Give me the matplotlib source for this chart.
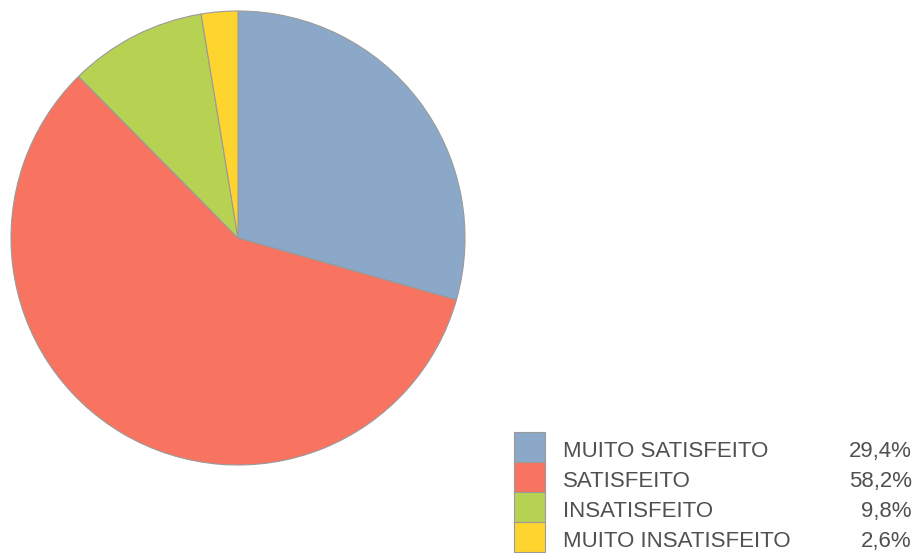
import matplotlib
matplotlib.use("Agg")
import matplotlib.pyplot as plt
from matplotlib.patches import Rectangle

categories = ["MUITO SATISFEITO", "SATISFEITO", "INSATISFEITO", "MUITO INSATISFEITO"]
values = [29.4, 58.2, 9.8, 2.6]
labels_pct = ["29,4%", "58,2%", "9,8%", "2,6%"]
colors = ["#8BA8C9", "#F87461", "#B7D252", "#FED42F"]

W, H = 916, 553
fig = plt.figure(figsize=(W / 100, H / 100), dpi=100)

# Pie axes: center (238,238) radius 227 in pixel coords (top-down)
cx, cy, r = 238, 238, 227
ax = fig.add_axes([(cx - r) / W, (H - (cy + r)) / H, 2 * r / W, 2 * r / H])
ax.pie(values, colors=colors, startangle=90, counterclock=False,
       wedgeprops=dict(edgecolor="#9a9a9a", linewidth=0.8))
ax.set_aspect("equal")
ax.set_xlim(-1, 1)
ax.set_ylim(-1, 1)
ax.axis("off")

# Legend in pixel coordinates
lax = fig.add_axes([0, 0, 1, 1])
lax.set_xlim(0, W)
lax.set_ylim(H, 0)
lax.axis("off")
row_top = 432
row_h = 30
for i, (cat, col, pct) in enumerate(zip(categories, colors, labels_pct)):
    y0 = row_top + i * row_h
    lax.add_patch(Rectangle((514, y0), 31, row_h, facecolor=col,
                            edgecolor="#9a9a9a", linewidth=0.8))
    yb = y0 + 25
    lax.text(563, yb, cat, fontsize=16, family="Liberation Sans",
             color="#505050", va="baseline", ha="left")
    lax.text(912, yb, pct, fontsize=16, family="Liberation Sans",
             color="#505050", va="baseline", ha="right")

fig.savefig("out.png", dpi=100)
